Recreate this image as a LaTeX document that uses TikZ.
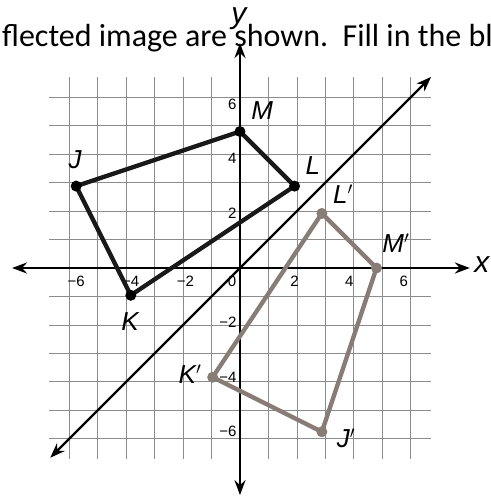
\documentclass[tikz,border=0pt]{standalone}
\usepackage{fontspec}
\setmainfont{Liberation Sans}
\newfontfamily\calib{Carlito}
\usetikzlibrary{arrows.meta}
\definecolor{imggray}{RGB}{135,124,118}
\definecolor{gridgray}{RGB}{140,140,140}
\tikzset{
  gridline/.style={gridgray, line width=0.7pt},
  axisline/.style={black, line width=2.6pt, {Stealth[length=15pt,width=11pt,inset=5pt]}-{Stealth[length=15pt,width=11pt,inset=5pt]}},
  refline/.style={black, line width=2.3pt, {Stealth[length=15pt,width=11pt,inset=5pt]}-{Stealth[length=15pt,width=11pt,inset=5pt]}},
  origpoly/.style={black!90, line width=4.3pt, line join=round},
  imgpoly/.style={imggray, line width=4.3pt, line join=round},
  ptlabel/.style={font=\fontsize{26}{30}\selectfont\itshape, inner sep=0pt},
  ticklabel/.style={font=\fontsize{15}{17}\selectfont, inner sep=0pt},
  axlabel/.style={font=\fontsize{30}{34}\selectfont\itshape, inner sep=0pt},
}
\begin{document}
\begin{tikzpicture}[x=27.3pt,y=27.3pt]
\useasboundingbox (-8.791,-8.425) rectangle (9.158,9.817);
\clip (-8.791,-8.425) rectangle (9.158,9.817);
\fill[white] (-8.791,-8.425) rectangle (9.158,9.817);
% top text
\node[anchor=base west, inner sep=0pt, font=\calib\fontsize{32}{38}\selectfont] (txt) at (-8.72,8.1) {flected image are shown.\ \ Fill in the bl};
% grid
\draw[gridline] (-7,-7) grid (7,7);
% axes
\coordinate (xl) at (-8.35,0);
\coordinate (xr) at (8.42,0);
\coordinate (yb) at (0,-8.32);
\coordinate (yt) at (0,8.24);
\draw[axisline] (xl) -- (xr);
\draw[axisline] (yb) -- (yt);
\node[axlabel] (xlab) at (8.86,0.11) {x};
\node[axlabel] (ylab) at (-0.04,9.12) {y};
% reflection line
\coordinate (r1) at (-6.95,-6.95);
\coordinate (r2) at (7,7);
\draw[refline] (r1) -- (r2);
% tick labels
\foreach \v/\t in {-6/−6,-4/−4,-2/−2,2/2,4/4,6/6}{
  \node[ticklabel] (xt\v) at (\v,-0.48) {\t};
  \node[ticklabel, anchor=east] (yt\v) at (-0.12,\v) {\t};
}
\node[ticklabel] (xt0) at (-0.29,-0.48) {0};
% original figure
\coordinate (J) at (-6,3);
\coordinate (K) at (-4,-1);
\coordinate (L) at (2,3);
\coordinate (M) at (0,5);
\draw[origpoly] (J) -- (K) -- (L) -- (M) -- cycle;
\foreach \p in {J,K,L,M}{\fill[black] (\p) circle (5.5pt);}
% image
\coordinate (J') at (3,-6);
\coordinate (K') at (-1,-4);
\coordinate (L') at (3,2);
\coordinate (M') at (5,0);
\draw[imgpoly] (J') -- (K') -- (L') -- (M') -- cycle;
\foreach \p in {J',K',L',M'}{\fill[imggray] (\p) circle (5.5pt);}
% vertex labels
\node[ptlabel] (lM) at (0.81,5.75) {M};
\node[ptlabel] (lJ) at (-6.04,3.96) {J};
\node[ptlabel] (lL) at (2.67,3.74) {L};
\node[ptlabel] (lK) at (-4.03,-1.98) {K};
\node[ptlabel] (lL') at (3.77,2.71) {L$'$};
\node[ptlabel] (lM') at (5.71,0.92) {M$'$};
\node[ptlabel] (lK') at (-1.83,-3.88) {K$'$};
\node[ptlabel] (lJ') at (3.88,-6.23) {J$'$};
\end{tikzpicture}
\end{document}
